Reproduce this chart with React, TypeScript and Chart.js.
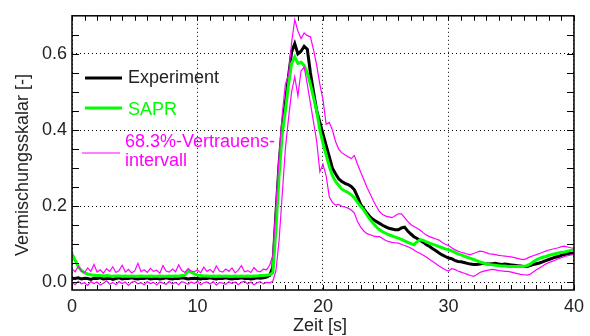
import React, { useEffect, useRef } from "react";
import { Chart, registerables } from "chart.js";

Chart.register(...registerables);

// Time grid (s), sampled every 0.25 s from 0 to 40 s
const TIME: number[] = Array.from({ length: 161 }, (_, i) => i * 0.25);

const X_TICKS = [0, 10, 20, 30, 40];
const Y_TICKS = [0.0, 0.2, 0.4, 0.6];

// Experiment (black)
const EXPERIMENT = [
  0.011, 0.010, 0.012, 0.009, 0.011, 0.010, 0.008, 0.011,
  0.010, 0.012, 0.009, 0.010, 0.011, 0.008, 0.010, 0.012,
  0.009, 0.011, 0.010, 0.012, 0.010, 0.009, 0.011, 0.010,
  0.012, 0.009, 0.010, 0.011, 0.009, 0.010, 0.012, 0.010,
  0.009, 0.011, 0.010, 0.012, 0.011, 0.009, 0.010, 0.011,
  0.010, 0.009, 0.011, 0.010, 0.012, 0.010, 0.009, 0.011,
  0.010, 0.012, 0.010, 0.009, 0.011, 0.010, 0.012, 0.010,
  0.011, 0.009, 0.010, 0.012, 0.011, 0.012, 0.014, 0.018,
  0.040, 0.180, 0.310, 0.410, 0.470, 0.540, 0.605, 0.627,
  0.600, 0.607, 0.620, 0.612, 0.550, 0.500, 0.450, 0.420,
  0.390, 0.360, 0.330, 0.300, 0.285, 0.272, 0.265, 0.260,
  0.257, 0.252, 0.243, 0.225, 0.205, 0.193, 0.182, 0.172,
  0.165, 0.160, 0.155, 0.150, 0.146, 0.142, 0.140, 0.138,
  0.138, 0.143, 0.145, 0.135, 0.127, 0.120, 0.115, 0.110,
  0.105, 0.099, 0.094, 0.088, 0.083, 0.077, 0.072, 0.068,
  0.064, 0.062, 0.058, 0.055, 0.054, 0.052, 0.050, 0.048,
  0.047, 0.047, 0.048, 0.050, 0.049, 0.048, 0.049, 0.050,
  0.048, 0.047, 0.048, 0.047, 0.046, 0.045, 0.044, 0.043,
  0.042, 0.042, 0.044, 0.047, 0.049, 0.051, 0.054, 0.057,
  0.060, 0.063, 0.066, 0.068, 0.071, 0.073, 0.075, 0.076,
  0.077,
];

// SAPR (green)
const SAPR = [
  0.075, 0.058, 0.042, 0.031, 0.025, 0.022, 0.020, 0.019,
  0.018, 0.018, 0.017, 0.018, 0.017, 0.016, 0.017, 0.017,
  0.016, 0.017, 0.016, 0.017, 0.016, 0.016, 0.017, 0.016,
  0.016, 0.017, 0.016, 0.016, 0.017, 0.016, 0.016, 0.017,
  0.016, 0.017, 0.016, 0.018, 0.019, 0.030, 0.027, 0.022,
  0.019, 0.018, 0.017, 0.017, 0.016, 0.017, 0.016, 0.017,
  0.016, 0.017, 0.016, 0.016, 0.017, 0.016, 0.017, 0.016,
  0.017, 0.016, 0.017, 0.017, 0.018, 0.018, 0.019, 0.020,
  0.025, 0.140, 0.280, 0.390, 0.450, 0.520, 0.575, 0.592,
  0.575, 0.578, 0.570, 0.550, 0.520, 0.485, 0.450, 0.400,
  0.365, 0.335, 0.305, 0.280, 0.265, 0.255, 0.245, 0.240,
  0.236, 0.230, 0.222, 0.210, 0.200, 0.190, 0.177, 0.165,
  0.155, 0.146, 0.138, 0.133, 0.129, 0.125, 0.122, 0.119,
  0.116, 0.113, 0.109, 0.105, 0.102, 0.099, 0.107, 0.112,
  0.110, 0.106, 0.103, 0.100, 0.097, 0.094, 0.091, 0.088,
  0.086, 0.083, 0.079, 0.075, 0.072, 0.069, 0.066, 0.063,
  0.060, 0.057, 0.054, 0.051, 0.049, 0.047, 0.046, 0.045,
  0.044, 0.043, 0.043, 0.042, 0.042, 0.042, 0.042, 0.042,
  0.042, 0.044, 0.048, 0.054, 0.059, 0.063, 0.066, 0.068,
  0.071, 0.073, 0.075, 0.077, 0.079, 0.080, 0.082, 0.084,
  0.086,
];

// 68.3% confidence interval, upper bound (magenta)
const CI_UPPER = [
  0.035, 0.028, 0.042, 0.030, 0.026, 0.038, 0.029, 0.047,
  0.027, 0.033, 0.024, 0.036, 0.029, 0.041, 0.026, 0.031,
  0.045, 0.027, 0.034, 0.025, 0.030, 0.050, 0.028, 0.033,
  0.026, 0.037, 0.029, 0.032, 0.024, 0.044, 0.030, 0.027,
  0.035, 0.028, 0.046, 0.031, 0.026, 0.036, 0.030, 0.028,
  0.033, 0.025, 0.040, 0.029, 0.034, 0.026, 0.043, 0.030,
  0.027, 0.035, 0.029, 0.038, 0.025, 0.032, 0.044, 0.028,
  0.031, 0.026, 0.039, 0.030, 0.028, 0.035, 0.033, 0.045,
  0.070, 0.200, 0.330, 0.440, 0.520, 0.545, 0.630, 0.690,
  0.660, 0.640, 0.655, 0.648, 0.645, 0.610, 0.570, 0.520,
  0.480, 0.415, 0.420, 0.400, 0.370, 0.350, 0.340, 0.335,
  0.330, 0.325, 0.333, 0.310, 0.290, 0.270, 0.250, 0.233,
  0.215, 0.200, 0.186, 0.178, 0.174, 0.172, 0.170, 0.175,
  0.180, 0.180, 0.170, 0.160, 0.152, 0.147, 0.142, 0.137,
  0.130, 0.124, 0.120, 0.117, 0.114, 0.111, 0.105, 0.100,
  0.097, 0.091, 0.086, 0.082, 0.079, 0.077, 0.074, 0.073,
  0.076, 0.079, 0.082, 0.081, 0.078, 0.075, 0.074, 0.073,
  0.071, 0.070, 0.069, 0.068, 0.067, 0.065, 0.063, 0.061,
  0.060, 0.063, 0.067, 0.070, 0.073, 0.076, 0.079, 0.082,
  0.085, 0.087, 0.089, 0.091, 0.094, 0.095, 0.093, 0.091,
  0.090,
];

// 68.3% confidence interval, lower bound (magenta)
const CI_LOWER = [
  0.000, -0.006, 0.003, -0.004, -0.001, -0.008, 0.002, -0.003,
  0.001, -0.007, -0.002, 0.004, -0.005, 0.000, -0.006, 0.002,
  -0.003, 0.001, -0.008, 0.000, 0.003, -0.004, -0.001, -0.006,
  0.002, -0.003, 0.000, -0.007, 0.001, -0.002, -0.005, 0.003,
  -0.004, 0.000, -0.006, 0.002, -0.001, -0.005, 0.001, -0.003,
  0.003, -0.006, -0.001, 0.001, -0.004, 0.002, -0.007, 0.000,
  -0.002, -0.005, 0.002, -0.003, 0.001, -0.006, 0.000, 0.003,
  -0.004, 0.001, -0.006, -0.001, 0.002, -0.004, 0.000, -0.001,
  0.003, 0.030, 0.110, 0.230, 0.350, 0.430, 0.500, 0.540,
  0.490, 0.555, 0.565, 0.520, 0.470, 0.420, 0.370, 0.290,
  0.310, 0.280, 0.225, 0.210, 0.203, 0.205, 0.200, 0.198,
  0.195, 0.190, 0.182, 0.160, 0.145, 0.135, 0.128, 0.125,
  0.122, 0.120, 0.120, 0.115, 0.110, 0.107, 0.105, 0.104,
  0.103, 0.100, 0.097, 0.094, 0.090, 0.085, 0.080, 0.076,
  0.071, 0.066, 0.060, 0.055, 0.049, 0.043, 0.038, 0.033,
  0.030, 0.036, 0.034, 0.030, 0.027, 0.024, 0.021, 0.018,
  0.016, 0.020, 0.026, 0.029, 0.031, 0.033, 0.034, 0.033,
  0.031, 0.030, 0.029, 0.029, 0.027, 0.025, 0.023, 0.021,
  0.020, 0.019, 0.021, 0.027, 0.033, 0.038, 0.043, 0.048,
  0.052, 0.055, 0.058, 0.062, 0.065, 0.068, 0.070, 0.072,
  0.073,
];

const FONT = "'Liberation Sans', Arial, Helvetica, sans-serif";
const TEXT_COLOR = "#222";
const MAGENTA = "#ff00ff";
const GREEN = "#00ff00";

const toPoints = (vals: number[]) => TIME.map((t, i) => ({ x: t, y: vals[i] }));

const decorPlugin = {
  id: "decor",
  afterDraw(chart: any) {
    const ctx = chart.ctx;
    const { left, right, top, bottom } = chart.chartArea;
    const xs = chart.scales.x;
    const ys = chart.scales.y;
    ctx.save();
    // minor tick marks (inside)
    ctx.strokeStyle = "#000";
    ctx.lineWidth = 1;
    ctx.beginPath();
    for (let t = 0; t <= 40; t += 1) {
      const px = Math.round(xs.getPixelForValue(t)) + 0.5;
      ctx.moveTo(px, bottom);
      ctx.lineTo(px, bottom - 5);
      ctx.moveTo(px, top);
      ctx.lineTo(px, top + 5);
    }
    for (let k = 0; k <= 13; k++) {
      const v = k * 0.05;
      const py = Math.round(ys.getPixelForValue(v)) + 0.5;
      ctx.moveTo(left, py);
      ctx.lineTo(left + 7, py);
      ctx.moveTo(right, py);
      ctx.lineTo(right - 7, py);
    }
    ctx.stroke();
    // frame
    ctx.lineWidth = 1.5;
    ctx.strokeRect(left, top, right - left, bottom - top);

    // axis titles
    ctx.fillStyle = TEXT_COLOR;
    ctx.font = `18px ${FONT}`;
    ctx.textAlign = "center";
    ctx.textBaseline = "alphabetic";
    ctx.fillText("Zeit [s]", (left + right) / 2 - 3, 331);
    ctx.save();
    ctx.translate(28, 165);
    ctx.rotate(-Math.PI / 2);
    ctx.fillText("Vermischungsskalar [-]", 0, 0);
    ctx.restore();

    // legend
    ctx.textAlign = "left";
    ctx.lineCap = "butt";
    ctx.lineWidth = 3;
    ctx.strokeStyle = "#000";
    ctx.beginPath();
    ctx.moveTo(85, 78);
    ctx.lineTo(122, 78);
    ctx.stroke();
    ctx.fillStyle = TEXT_COLOR;
    ctx.fillText("Experiment", 128, 83);

    ctx.strokeStyle = GREEN;
    ctx.beginPath();
    ctx.moveTo(85, 108);
    ctx.lineTo(122, 108);
    ctx.stroke();
    ctx.fillStyle = GREEN;
    ctx.fillText("SAPR", 128, 115);

    ctx.strokeStyle = MAGENTA;
    ctx.lineWidth = 1.2;
    ctx.beginPath();
    ctx.moveTo(82, 153);
    ctx.lineTo(120, 153);
    ctx.stroke();
    ctx.fillStyle = MAGENTA;
    ctx.fillText("68.3%-Vertrauens-", 125, 147);
    ctx.fillText("intervall", 125, 166);
    ctx.restore();
  },
};

export default function App() {
  const canvasRef = useRef<HTMLCanvasElement | null>(null);

  useEffect(() => {
    if (!canvasRef.current) return;
    const chart = new Chart(canvasRef.current, {
      type: "line",
      data: {
        datasets: [
          {
            label: "68.3%-Vertrauensintervall (oben)",
            data: toPoints(CI_UPPER),
            borderColor: MAGENTA,
            borderWidth: 1.2,
            pointRadius: 0,
            fill: false,
          },
          {
            label: "68.3%-Vertrauensintervall (unten)",
            data: toPoints(CI_LOWER),
            borderColor: MAGENTA,
            borderWidth: 1.2,
            pointRadius: 0,
            fill: false,
          },
          {
            label: "SAPR",
            data: toPoints(SAPR),
            borderColor: GREEN,
            borderWidth: 3,
            pointRadius: 0,
            fill: false,
          },
          {
            label: "Experiment",
            data: toPoints(EXPERIMENT),
            borderColor: "#000",
            borderWidth: 3,
            pointRadius: 0,
            fill: false,
          },
        ],
      },
      options: {
        animation: false,
        responsive: false,
        devicePixelRatio: 1,
        layout: { padding: { left: 0, right: 16, top: 13, bottom: 0 } },
        plugins: { legend: { display: false }, tooltip: { enabled: false } },
        elements: { line: { tension: 0 } },
        scales: {
          x: {
            type: "linear",
            min: 0,
            max: 40,
            afterBuildTicks: (s: any) => {
              s.ticks = X_TICKS.map((v) => ({ value: v }));
            },
            afterFit: (s: any) => {
              s.height = 46;
            },
            ticks: {
              color: TEXT_COLOR,
              font: { family: FONT, size: 18 },
              padding: 6,
              maxRotation: 0,
              autoSkip: false,
            },
            grid: { color: "#000", lineWidth: 1, drawTicks: false },
            border: { display: false, dash: [1, 3] },
          },
          y: {
            type: "linear",
            min: -0.02,
            max: 0.7,
            afterBuildTicks: (s: any) => {
              s.ticks = Y_TICKS.map((v) => ({ value: v }));
            },
            afterFit: (s: any) => {
              s.width = 72;
            },
            ticks: {
              color: TEXT_COLOR,
              font: { family: FONT, size: 18 },
              padding: 5,
              autoSkip: false,
              callback: (v: any) => Number(v).toFixed(1),
            },
            grid: { color: "#000", lineWidth: 1, drawTicks: false },
            border: { display: false, dash: [1, 3] },
          },
        },
      },
      plugins: [decorPlugin],
    });
    return () => chart.destroy();
  }, []);

  return (
    <div style={{ position: "fixed", left: 0, top: 0, width: 590, height: 336, background: "#fff" }}>
      <canvas ref={canvasRef} width={590} height={336} style={{ display: "block", width: 590, height: 336 }} />
    </div>
  );
}
